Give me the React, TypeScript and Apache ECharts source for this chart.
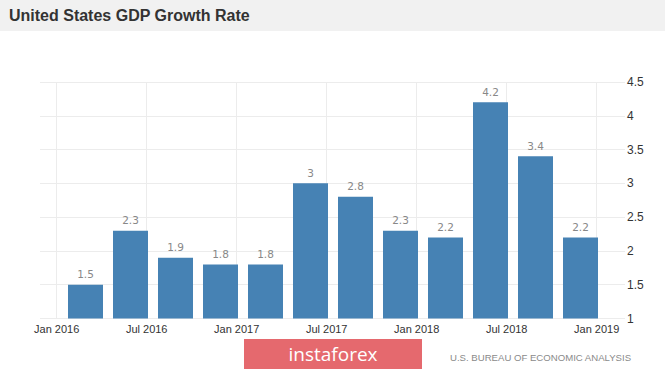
import React, { useEffect, useRef } from "react";
import * as echarts from "echarts";

const quarters = ["2016 Q1", "2016 Q2", "2016 Q3", "2016 Q4", "2017 Q1", "2017 Q2", "2017 Q3", "2017 Q4", "2018 Q1", "2018 Q2", "2018 Q3", "2018 Q4"];
const gdpGrowth = [1.5, 2.3, 1.9, 1.8, 1.8, 3.0, 2.8, 2.3, 2.2, 4.2, 3.4, 2.2];
const xTickLabels = ["Jan 2016", "Jul 2016", "Jan 2017", "Jul 2017", "Jan 2018", "Jul 2018", "Jan 2019"];
const yMin = 1;
const yMax = 4.5;
const yStep = 0.5;

export default function App() {
  const ref = useRef<HTMLDivElement>(null);
  useEffect(() => {
    if (!ref.current) return;
    const chart = echarts.init(ref.current, null, { renderer: "svg" });
    const barData = gdpGrowth.map((v, i) => [i + 0.64, v]);
    chart.setOption({
      animation: false,
      backgroundColor: "#ffffff",
      graphic: [
        { type: "rect", x: 0, y: 0, shape: { width: 665, height: 31 }, style: { fill: "#f1f1f1" }, z: -1 },
        {
          type: "text",
          x: 9,
          y: 15,
          style: { text: "United States GDP Growth Rate", font: "bold 16px 'Liberation Sans', Arial, sans-serif", fill: "#333333", verticalAlign: "middle" },
        },
        { type: "rect", x: 244, y: 339, shape: { width: 178, height: 30 }, style: { fill: "#e5696e" } },
        {
          type: "text",
          x: 333,
          y: 354,
          style: { text: "instaforex", font: "19px 'Open Sans', sans-serif", fill: "#ffffff", align: "center", verticalAlign: "middle" },
        },
        {
          type: "text",
          x: 450,
          y: 357,
          style: {
            text: "U.S. BUREAU OF ECONOMIC ANALYSIS",
            font: "9.6px 'Liberation Sans', sans-serif",
            fill: "#8a8a8a",
            verticalAlign: "middle",
          },
        },
      ],
      grid: [
        { left: 40, top: 82, width: 585, height: 236.5 },
        { left: 56.7, top: 82, width: 540, height: 236.5 },
      ],
      xAxis: [
        { type: "value", gridIndex: 0, min: 0, max: 1, show: false },
        {
          type: "value",
          gridIndex: 1,
          min: 0,
          max: 12,
          interval: 2,
          axisLine: { show: false },
          axisTick: { show: false },
          splitLine: { show: true, lineStyle: { color: "#ececec", width: 1 } },
          axisLabel: {
            margin: 5,
            color: "#333333",
            fontSize: 11,
            fontFamily: "'Liberation Sans', sans-serif",
            formatter: (v: number) => xTickLabels[Math.round(v / 2)] ?? "",
          },
        },
      ],
      yAxis: [
        {
          type: "value",
          gridIndex: 0,
          position: "right",
          min: yMin,
          max: yMax,
          interval: yStep,
          axisLine: { show: false },
          axisTick: { show: false },
          splitLine: { show: true, lineStyle: { color: "#ececec", width: 1 } },
          axisLabel: {
            margin: 2,
            color: "#333333",
            fontSize: 12,
            fontFamily: "'Liberation Sans', sans-serif",
          },
        },
        { type: "value", gridIndex: 1, min: yMin, max: yMax, show: false },
      ],
      series: [
        {
          type: "bar",
          name: "GDP Growth Rate",
          xAxisIndex: 1,
          yAxisIndex: 1,
          data: barData,
          barWidth: 35,
          itemStyle: { color: "#4682b4" },
          label: {
            show: true,
            position: "top",
            distance: 5,
            color: "#888888",
            fontSize: 10.5,
            fontFamily: "'DejaVu Sans', sans-serif",
            formatter: (p: any) => String(p.value[1]),
          },
        },
      ],
    });
    return () => chart.dispose();
  }, []);
  return <div ref={ref} style={{ position: "fixed", left: 0, top: 0, width: 665, height: 371 }} />;
}
